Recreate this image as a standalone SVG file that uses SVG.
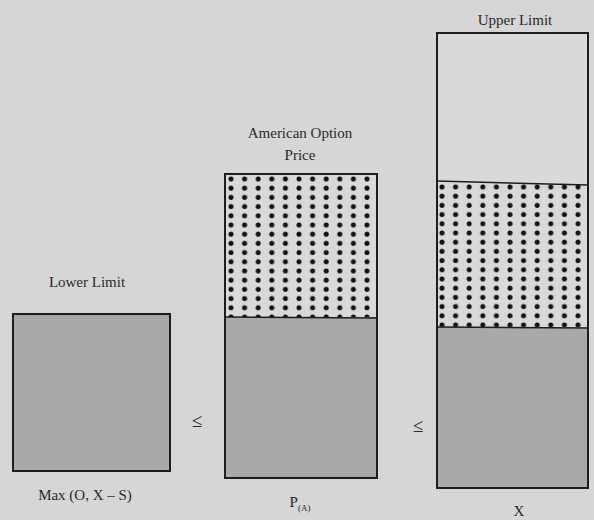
<svg xmlns="http://www.w3.org/2000/svg" width="594" height="520" viewBox="0 0 594 520">
<style>
.lbl{font-family:"Liberation Serif","DejaVu Serif",serif;font-size:15px;fill:#2a2a2a;text-anchor:middle}
.le{font-family:"Liberation Serif","DejaVu Serif",serif;font-size:19px;fill:#2a2a2a;text-anchor:middle}
.box{stroke:#1e1e1e;stroke-width:2}
.grey{fill:#a9a9a9}
.light{fill:#d9d9d9}
.div{stroke:#1e1e1e;stroke-width:1.5}
</style>
<defs>
<pattern id="dots" x="228" y="176" width="13.6" height="9.2" patternUnits="userSpaceOnUse">
<rect width="13.6" height="9.2" fill="#d9d9d9"/>
<circle cx="3" cy="3" r="2.5" fill="#111"/>
</pattern>
<pattern id="dots2" x="439" y="184" width="13.6" height="9.2" patternUnits="userSpaceOnUse">
<rect width="13.6" height="9.2" fill="#d9d9d9"/>
<circle cx="3" cy="3" r="2.5" fill="#111"/>
</pattern>
</defs>
<rect width="594" height="520" fill="#d6d6d6"/>
<g id="lower">
<rect x="13" y="314" width="157" height="157" class="box grey"/>
<text x="87" y="287" class="lbl">Lower Limit</text>
<text x="85" y="500" class="lbl">Max (O, X – S)</text>
</g>
<g id="american">
<rect x="225" y="174" width="152" height="143" fill="url(#dots)"/>
<rect x="225" y="317" width="152" height="161" class="grey"/>
<rect x="225" y="174" width="152" height="304" class="box" fill="none"/>
<line x1="225" y1="317" x2="377" y2="318" class="div"/>
<text x="300" y="138" class="lbl">American  Option</text>
<text x="300" y="160" class="lbl">Price</text>
<text x="300" y="507" class="lbl">P<tspan font-size="9" dy="4">(A)</tspan></text>
</g>
<g id="upper">
<rect x="437" y="33" width="151" height="149" class="light"/>
<rect x="437" y="182" width="151" height="145" fill="url(#dots2)"/>
<rect x="437" y="327" width="151" height="161" class="grey"/>
<rect x="437" y="33" width="151" height="455" class="box" fill="none"/>
<line x1="437" y1="181" x2="588" y2="185" class="div"/>
<line x1="437" y1="327" x2="588" y2="328" class="div"/>
<text x="515" y="25" class="lbl">Upper Limit</text>
<text x="519" y="516" class="lbl">X</text>
</g>
<g id="connectors">
<text x="197" y="427" class="le">≤</text>
<text x="418" y="432" class="le">≤</text>
</g>
</svg>
